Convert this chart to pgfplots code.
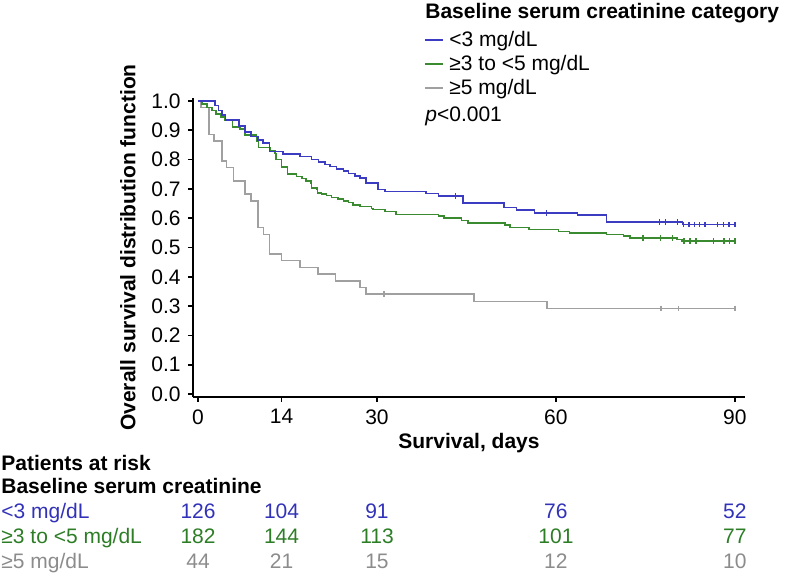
\documentclass[border=0pt]{standalone}
\usepackage{fontspec}
\setmainfont{Liberation Sans}
\usepackage{pgfplots}
\pgfplotsset{compat=1.18}
\definecolor{cblue}{RGB}{60,60,195}
\definecolor{cgreen}{RGB}{58,138,48}
\definecolor{cgray}{RGB}{160,160,160}
\definecolor{tblue}{RGB}{50,50,185}
\definecolor{tgreen}{RGB}{45,125,38}
\definecolor{tgray}{RGB}{140,140,140}
\begin{document}
\fontsize{10.5}{12.6}\selectfont
\begin{tikzpicture}
\begin{axis}[
  scale only axis, width=276pt, height=149.5pt,
  xmin=-0.85, xmax=91.7, ymin=-0.01, ymax=1.01,
  axis x line*=bottom, axis y line*=left,
  axis line style={line width=1pt,-},
  xtick={0,14,30,60,90},
  ytick={0,0.1,0.2,0.3,0.4,0.5,0.6,0.7,0.8,0.9,1.0},
  yticklabel style={/pgf/number format/.cd, fixed, fixed zerofill, precision=1},
  /pgf/number format/assume math mode=true,
  tick align=outside, major tick length=2.5pt,
  tick style={line width=0.8pt, black},
  xlabel={\textbf{Survival, days}},
  ylabel={\textbf{Overall survival distribution function}},
  xlabel style={at={(axis description cs:0.5,-0.154)}, anchor=center},
  ylabel style={at={(axis description cs:-0.118,0.5)}, anchor=center},
  clip=false,
]
\addplot[cgray, line width=0.8pt, const plot] coordinates {
(0,1)(0.5,0.977)(1.84,0.886)(2.68,0.864)(3.97,0.795)(4.8,0.773)(5.92,0.727)(7.88,0.682)(8.88,0.659)(10.0,0.568)(10.95,0.545)(11.95,0.477)(14.0,0.455)(17.1,0.432)(20.06,0.409)(23.07,0.386)(27.15,0.364)(28.15,0.341)(46.3,0.316)(58.5,0.292)(90,0.292)};
\addplot[cgreen, line width=0.8pt, const plot] coordinates {
(0,1)(0.7,0.989)(1.5,0.978)(2.3,0.967)(3.0,0.956)(3.8,0.945)(4.5,0.934)(5.8,0.912)(7.04,0.904)(7.9,0.883)(9.83,0.864)(10.1,0.841)(12.07,0.831)(12.9,0.820)(13.07,0.800)(14.02,0.774)(15.0,0.750)(16.5,0.742)(17.4,0.735)(18.1,0.727)(18.9,0.719)(19.05,0.704)(19.9,0.700)(20.05,0.685)(20.7,0.682)(21.56,0.677)(22.4,0.671)(23.5,0.666)(24.4,0.659)(25.2,0.654)(26.0,0.646)(27.15,0.640)(29.1,0.633)(29.3,0.630)(31.3,0.623)(33.2,0.613)(40.3,0.607)(41.2,0.601)(44.2,0.592)(45.3,0.584)(51.5,0.576)(52.3,0.568)(55.5,0.561)(60.4,0.555)(62.3,0.549)(68.5,0.545)(71.3,0.540)(72.4,0.532)(80.3,0.527)(81.1,0.522)(90,0.522)};
\addplot[cblue, line width=0.8pt, const plot] coordinates {
(0,1)(2.8,0.984)(3.4,0.968)(4.0,0.952)(4.6,0.935)(6.9,0.914)(7.9,0.895)(8.9,0.878)(10.0,0.867)(10.9,0.857)(11.95,0.828)(14.2,0.818)(17.1,0.810)(19.05,0.800)(20.2,0.791)(21.3,0.783)(22.1,0.776)(23.2,0.768)(24.4,0.760)(25.2,0.753)(26.3,0.744)(27.15,0.737)(28.2,0.721)(30.2,0.698)(31.3,0.691)(38.2,0.684)(40.3,0.675)(44.4,0.651)(51.3,0.636)(53.4,0.627)(56.4,0.618)(63.6,0.611)(68.5,0.587)(81.2,0.578)(90,0.578)};
% censor marks
\addplot[cgray, only marks, mark=|, mark size=1.4pt, mark options={line width=0.7pt}] coordinates {
(31.2,0.341)(77.6,0.292)(80.6,0.292)(90,0.292)};
\addplot[cgreen, only marks, mark=|, mark size=1.4pt, mark options={line width=0.7pt}] coordinates {
(74.6,0.532)(77.5,0.532)(79.5,0.532)(81.5,0.522)(82.5,0.522)(83.5,0.522)(86.4,0.522)(88.2,0.522)(89.1,0.522)(90,0.522)};
\addplot[cblue, only marks, mark=|, mark size=1.4pt, mark options={line width=0.7pt}] coordinates {
(43.2,0.675)(58.4,0.618)(77.4,0.587)(78.4,0.587)(80.4,0.587)(81.4,0.578)(82.3,0.578)(83.2,0.578)(84.1,0.578)(85.0,0.578)(87.1,0.578)(88.1,0.578)(89.0,0.578)(90,0.578)};
% numbers at risk
\node[anchor=base, text=tblue] at (axis cs:0,-0.4248) {126};
\node[anchor=base, text=tblue] at (axis cs:14,-0.4248) {104};
\node[anchor=base, text=tblue] at (axis cs:30,-0.4248) {91};
\node[anchor=base, text=tblue] at (axis cs:60,-0.4248) {76};
\node[anchor=base, text=tblue] at (axis cs:90,-0.4248) {52};
\node[anchor=base, text=tgreen] at (axis cs:0,-0.510) {182};
\node[anchor=base, text=tgreen] at (axis cs:14,-0.510) {144};
\node[anchor=base, text=tgreen] at (axis cs:30,-0.510) {113};
\node[anchor=base, text=tgreen] at (axis cs:60,-0.510) {101};
\node[anchor=base, text=tgreen] at (axis cs:90,-0.510) {77};
\node[anchor=base, text=tgray] at (axis cs:0,-0.595) {44};
\node[anchor=base, text=tgray] at (axis cs:14,-0.595) {21};
\node[anchor=base, text=tgray] at (axis cs:30,-0.595) {15};
\node[anchor=base, text=tgray] at (axis cs:60,-0.595) {12};
\node[anchor=base, text=tgray] at (axis cs:90,-0.595) {10};
\end{axis}
\begin{scope}[x=0.5pt, y=-0.5pt, shift={(-96.5pt,198.5pt)}]
\path[use as bounding box] (0,0) rectangle (800,573);
% legend
\node[anchor=base west, inner sep=0pt] at (425,19) {\textbf{Baseline serum creatinine category}};
\draw[cblue, line width=0.8pt] (425,40) -- (443,40);
\node[anchor=base west, inner sep=0pt] at (449,47) {<3 mg/dL};
\draw[cgreen, line width=0.8pt] (425,64) -- (443,64);
\node[anchor=base west, inner sep=0pt] at (449,71) {≥3 to <5 mg/dL};
\draw[cgray, line width=0.8pt] (425,88) -- (443,88);
\node[anchor=base west, inner sep=0pt] at (449,95) {≥5 mg/dL};
\node[anchor=base west, inner sep=0pt] at (425,122) {\textit{p}<0.001};
% risk table headers
\node[anchor=base west, inner sep=0pt] at (1,471) {\textbf{Patients at risk}};
\node[anchor=base west, inner sep=0pt] at (1,494) {\textbf{Baseline serum creatinine}};
\node[anchor=base west, inner sep=0pt, text=tblue] at (1,519) {<3 mg/dL};
\node[anchor=base west, inner sep=0pt, text=tgreen] at (1,544) {≥3 to <5 mg/dL};
\node[anchor=base west, inner sep=0pt, text=tgray] at (1,569) {≥5 mg/dL};
\end{scope}
\end{tikzpicture}
\end{document}
